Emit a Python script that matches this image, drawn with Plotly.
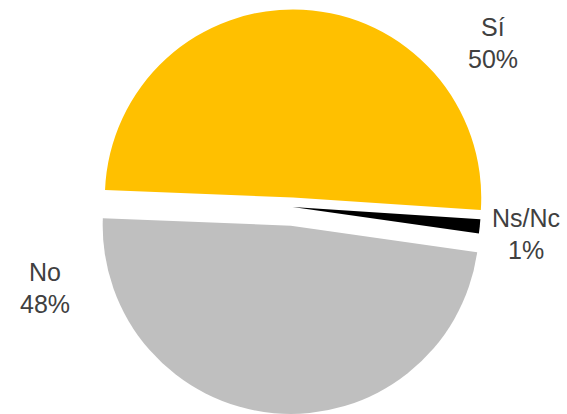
import plotly.graph_objects as go

labels = ["Sí", "Ns/Nc", "No"]
values = [50.4, 1.2, 48.4]
colors = ["#FFC000", "#000000", "#BFBFBF"]
pulls = [0.05, 0.0, 0.1]

total = sum(values)
pct = [f"{round(v / total * 100):.0f}%" for v in values]

fig = go.Figure(go.Pie(
    labels=labels,
    values=values,
    sort=False,
    direction="clockwise",
    rotation=-87.7,
    pull=pulls,
    marker=dict(colors=colors, line=dict(width=0)),
    textinfo="none",
    hoverinfo="label+percent",
    domain=dict(x=[0.1, 0.932], y=[0, 1]),
))

# label positions (paper coords) for each category
label_pos = [(493 / 567, 1 - 37 / 414), (525.5 / 567, 1 - 228 / 414), (45 / 567, 1 - 282 / 414)]
line_gap = 32 / 414
font = dict(family="Liberation Sans, Arial, sans-serif", size=25, color="#404040")
annotations = []
for (x, y), lab, p in zip(label_pos, labels, pct):
    annotations.append(dict(x=x, y=y, xref="paper", yref="paper", text=lab,
                            showarrow=False, xanchor="center", yanchor="bottom",
                            font=font, yshift=-6))
    annotations.append(dict(x=x, y=y - line_gap, xref="paper", yref="paper", text=p,
                            showarrow=False, xanchor="center", yanchor="bottom",
                            font=font, yshift=-6))

fig.update_layout(
    width=567, height=414,
    margin=dict(l=0, r=0, t=0, b=0),
    paper_bgcolor="white",
    plot_bgcolor="white",
    showlegend=False,
    annotations=annotations,
)

fig.write_html("out.html")
